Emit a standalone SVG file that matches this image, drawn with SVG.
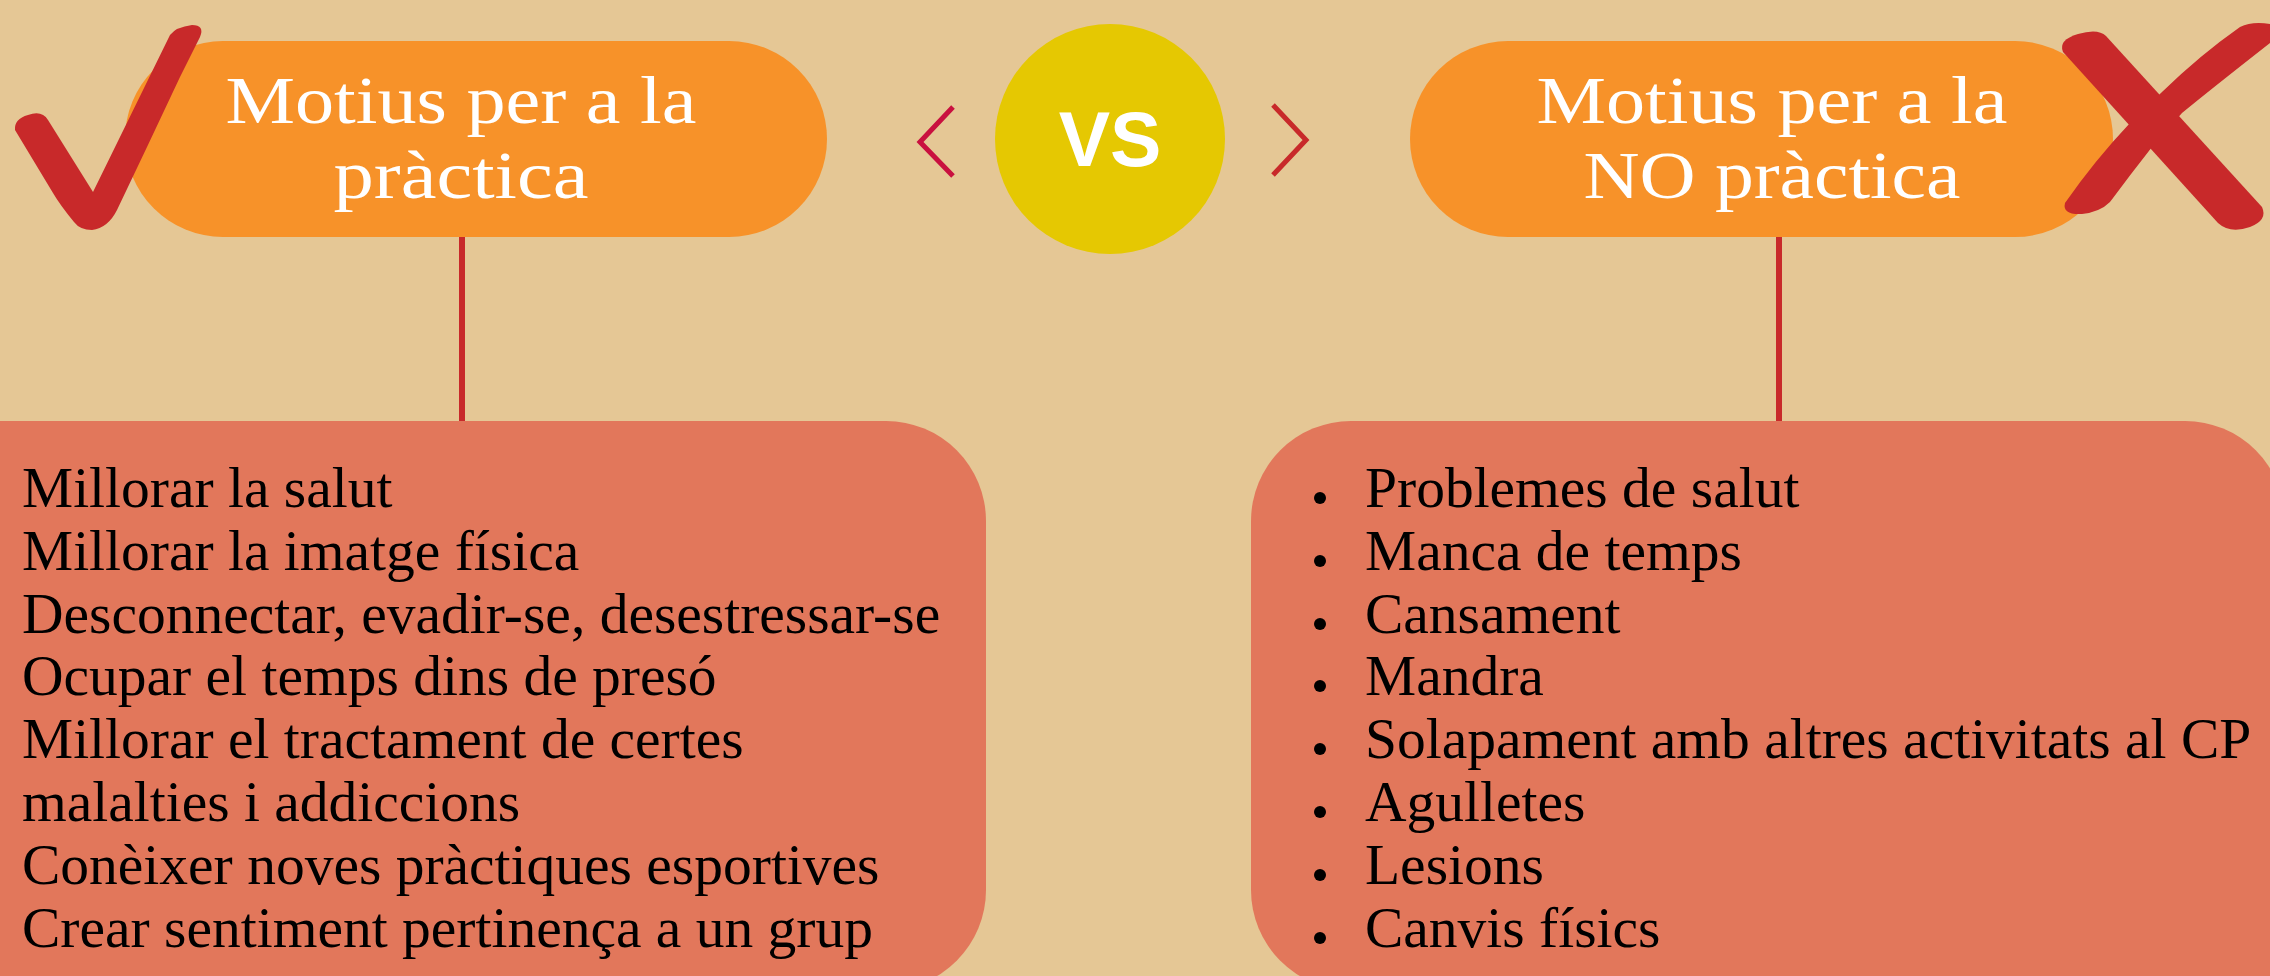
<svg xmlns="http://www.w3.org/2000/svg" width="2270" height="976" viewBox="0 0 2270 976">
<style>
.bg{fill:#e5c795}
.pill{fill:#f79229}
.box{fill:#e2775b}
.mark{fill:#c8292a}
.head{font-family:"Liberation Serif",serif;font-size:68px;fill:#ffffff;text-anchor:middle}
.item{font-family:"Liberation Serif",serif;font-size:57.5px;fill:#000000}
.vs{font-family:"Liberation Sans",Arial,sans-serif;font-weight:bold;font-size:77px;fill:#ffffff;text-anchor:middle}
.conn{stroke:#c8292a;stroke-width:6;fill:none}
.chev{stroke-width:5;fill:none}
</style>
<rect class="bg" x="0" y="0" width="2270" height="976"/>

<g id="connectors">
  <line class="conn" x1="462" y1="236" x2="462" y2="422"/>
  <line class="conn" x1="1779" y1="236" x2="1779" y2="422"/>
</g>

<g id="node-practica">
  <rect class="pill" x="125" y="41" width="702" height="196" rx="98" ry="98"/>
  <text class="head" x="461" y="123" textLength="471" lengthAdjust="spacingAndGlyphs">Motius per a la</text>
  <text class="head" x="461" y="198" textLength="255" lengthAdjust="spacingAndGlyphs">pràctica</text>
  <path class="mark" d="M15,130 Q14,119 28,115 Q42,110 48,120 L93,192 L170,35 Q176,27 192,25 Q205,25 200,37 L180,77 L147,147 L117,210 Q108,228 92,230 Q80,230 74,222 Q60,205 53,193 Z"/>
</g>

<g id="node-vs">
  <path class="chev" stroke="#c9103f" d="M953,107 L920,142 L953,176"/>
  <circle cx="1110" cy="139" r="115" fill="#e5c802"/>
  <text class="vs" x="1110" y="166">VS</text>
  <path class="chev" stroke="#c8292a" d="M1273,105 L1306,140 L1273,175"/>
</g>

<g id="node-no-practica">
  <rect class="pill" x="1410" y="41" width="703" height="196" rx="98" ry="98"/>
  <text class="head" x="1772" y="123" textLength="471" lengthAdjust="spacingAndGlyphs">Motius per a la</text>
  <text class="head" x="1772" y="198" textLength="377" lengthAdjust="spacingAndGlyphs">NO pràctica</text>
  <path class="mark" d="M2063,52 Q2058,40 2078,34 Q2098,28 2106,36 L2262,207 Q2268,220 2250,227 Q2230,234 2218,223 Z"/>
  <path class="mark" d="M2240,27 Q2252,21 2270,24 L2270,43 Q2210,90 2182,113 L2152,147 Q2130,175 2110,202 Q2100,212 2082,214 Q2062,215 2065,203 Q2095,160 2130,123 L2162,92 Q2200,55 2240,27 Z"/>
</g>

<g id="node-list-practica">
  <path class="box" d="M-10,421 L886,421 A100,100 0 0 1 986,521 L986,890 A100,100 0 0 1 886,990 L-10,990 Z"/>
  <text class="item" x="22" y="507">Millorar la salut</text>
  <text class="item" x="22" y="570">Millorar la imatge física</text>
  <text class="item" x="22" y="633">Desconnectar, evadir-se, desestressar-se</text>
  <text class="item" x="22" y="695">Ocupar el temps dins de presó</text>
  <text class="item" x="22" y="758">Millorar el tractament de certes</text>
  <text class="item" x="22" y="821">malalties i addiccions</text>
  <text class="item" x="22" y="884">Conèixer noves pràctiques esportives</text>
  <text class="item" x="22" y="947">Crear sentiment pertinença a un grup</text>
</g>

<g id="node-list-no-practica">
  <path class="box" d="M1351,421 L2185,421 A100,100 0 0 1 2285,521 L2285,990 L1351,990 A100,100 0 0 1 1251,890 L1251,521 A100,100 0 0 1 1351,421 Z"/>
  <g fill="#000000">
    <circle cx="1320" cy="498" r="6"/>
    <circle cx="1320" cy="561" r="6"/>
    <circle cx="1320" cy="624" r="6"/>
    <circle cx="1320" cy="686" r="6"/>
    <circle cx="1320" cy="749" r="6"/>
    <circle cx="1320" cy="812" r="6"/>
    <circle cx="1320" cy="875" r="6"/>
    <circle cx="1320" cy="938" r="6"/>
  </g>
  <text class="item" x="1365" y="507">Problemes de salut</text>
  <text class="item" x="1365" y="570">Manca de temps</text>
  <text class="item" x="1365" y="633">Cansament</text>
  <text class="item" x="1365" y="695">Mandra</text>
  <text class="item" x="1365" y="758">Solapament amb altres activitats al CP</text>
  <text class="item" x="1365" y="821">Agulletes</text>
  <text class="item" x="1365" y="884">Lesions</text>
  <text class="item" x="1365" y="947">Canvis físics</text>
</g>
</svg>
